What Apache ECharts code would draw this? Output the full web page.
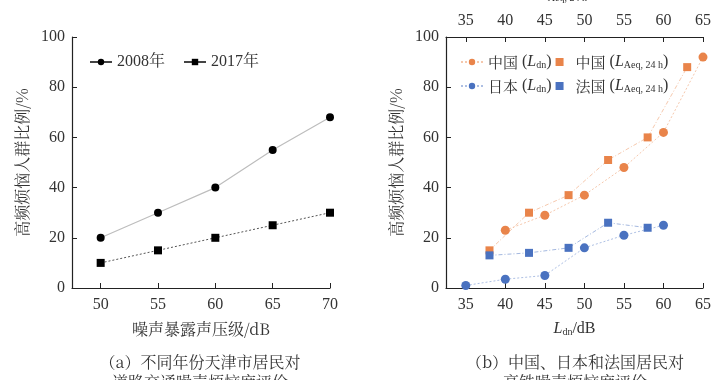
<!DOCTYPE html>
<html>
<head>
<meta charset="utf-8">
<script src="https://cdn.jsdelivr.net/npm/echarts@6/dist/echarts.min.js"></script>
<style>html,body{margin:0;padding:0;background:#fff;}#c{width:720px;height:380px;}</style>
</head>
<body>
<div id="c"></div>
<script>
// ---- data ----
const leftX = [50, 55, 60, 65, 70];
const y2008 = [20, 30, 40, 55, 68];
const y2017 = [10, 15, 20, 25, 30];
const leftTicks = [50, 55, 60, 65, 70];

const cnLdnX = [40, 45, 50, 55, 60, 65];
const cnLdnY = [23, 29, 37, 48, 62, 92];
const cnLaeqX = [38, 43, 48, 53, 58, 63];
const cnLaeqY = [15, 30, 37, 51, 60, 88];
const jpLdnX = [35, 40, 45, 50, 55, 60];
const jpLdnY = [1, 3.5, 5, 16, 21, 25];
const frLaeqX = [38, 43, 48, 53, 58];
const frLaeqY = [13, 14, 16, 26, 24];
const rightTicks = [35, 40, 45, 50, 55, 60, 65];

const FONT = "'Liberation Serif', 'Noto Serif CJK SC', 'Noto Sans CJK SC', serif";
const CJK = "'Noto Serif CJK SC', 'Noto Sans CJK SC', 'Liberation Serif', serif";
const ORANGE = '#E9844A';
const BLUE = '#4A72C0';
const AX = '#222';

function pairs(xs, ys) { return xs.map((x, i) => [x, ys[i]]); }

const axisLine = { lineStyle: { color: AX, width: 1.2 } };
const labelStyle = { fontFamily: FONT, fontSize: 16, color: '#333' };

const subRich = {
  i: { fontFamily: FONT, fontStyle: 'italic', fontSize: 16, color: '#333' },
  s: { fontFamily: FONT, fontSize: 10, color: '#333', verticalAlign: 'bottom', padding: [6, 0, 0, 0] },
  n: { fontFamily: CJK, fontSize: 15, color: '#333' },
  p: { fontFamily: FONT, fontSize: 16, color: '#333' },
  t: { fontFamily: FONT, fontSize: 16, color: '#333' }
};

const legendNames = {
  'cnLdn': '{n|中国}{p| (}{i|L}{s|dn}{p|) }',
  'cnLaeq': '{n|中国}{p| (}{i|L}{s|Aeq, 24 h}{p|) }',
  'jpLdn': '{n|日本}{p| (}{i|L}{s|dn}{p|) }',
  'frLaeq': '{n|法国}{p| (}{i|L}{s|Aeq, 24 h}{p|) }'
};
const SQ = 'path://M0,0L1,0L1,1L0,1Z';

const chart = echarts.init(document.getElementById('c'), null, { renderer: 'canvas' });
chart.setOption({
  backgroundColor: '#fff',
  animation: false,
  legend: [
    {
      left: 84, top: 49, itemWidth: 22, itemHeight: 8, itemGap: 18,
      textStyle: { fontFamily: FONT, fontSize: 16, color: '#333' },
      data: [
        { name: '2008年', lineStyle: { color: '#444', type: 'solid' } },
        { name: '2017年', lineStyle: { color: '#444', type: 'solid' } }
      ]
    },
    {
      left: 455, top: 49, itemWidth: 22, itemHeight: 8, itemGap: 0,
      formatter: n => legendNames[n],
      textStyle: { rich: subRich },
      data: ['cnLdn', { name: 'cnLaeq', icon: SQ }]
    },
    {
      left: 455, top: 73, itemWidth: 22, itemHeight: 8, itemGap: 0,
      formatter: n => legendNames[n],
      textStyle: { rich: subRich },
      data: ['jpLdn', { name: 'frLaeq', icon: SQ }]
    }
  ],
  grid: [
    { left: 72, right: 390, top: 37, bottom: 92, outerBoundsMode: 'none' },
    { left: 446, right: 17, top: 37, bottom: 92, outerBoundsMode: 'none' }
  ],
  xAxis: [
    {
      gridIndex: 0, type: 'value', min: 47.5, max: 70,
      axisLine: axisLine,
      axisTick: { inside: true, length: 5, lineStyle: { color: AX }, customValues: leftTicks },
      axisLabel: Object.assign({ margin: 9, customValues: leftTicks }, labelStyle),
      splitLine: { show: false },
      name: '噪声暴露声压级/dB', nameLocation: 'middle', nameGap: 33,
      nameTextStyle: { fontFamily: CJK, fontSize: 16, color: '#333' }
    },
    {
      gridIndex: 1, type: 'value', min: 32.5, max: 65,
      axisLine: axisLine,
      axisTick: { inside: true, length: 5, lineStyle: { color: AX }, customValues: rightTicks },
      axisLabel: Object.assign({ margin: 9, customValues: rightTicks }, labelStyle),
      splitLine: { show: false },
      name: '{i|L}{s|dn}{t|/dB}', nameLocation: 'middle', nameGap: 33,
      nameTextStyle: { rich: subRich }
    },
    {
      gridIndex: 1, type: 'value', min: 32.5, max: 65, position: 'top',
      axisLine: axisLine,
      axisTick: { inside: true, length: 5, lineStyle: { color: AX }, customValues: rightTicks },
      axisLabel: Object.assign({ margin: 8, customValues: rightTicks }, labelStyle),
      splitLine: { show: false },
      name: '{i|L}{s|Aeq, 24 h}{t|/dB}', nameLocation: 'middle', nameGap: 34,
      nameTextStyle: { rich: subRich }
    }
  ],
  yAxis: [
    {
      gridIndex: 0, type: 'value', min: 0, max: 100, interval: 20,
      axisLine: Object.assign({ show: true }, axisLine),
      axisTick: { show: true, inside: true, length: 5, lineStyle: { color: AX } },
      axisLabel: Object.assign({ margin: 7 }, labelStyle),
      splitLine: { show: false },
      name: '高频烦恼人群比例/%', nameLocation: 'middle', nameGap: 42,
      nameTextStyle: { fontFamily: CJK, fontSize: 16, color: '#333' }
    },
    {
      gridIndex: 1, type: 'value', min: 0, max: 100, interval: 20,
      axisLine: Object.assign({ show: true }, axisLine),
      axisTick: { show: true, inside: true, length: 5, lineStyle: { color: AX } },
      axisLabel: Object.assign({ margin: 7 }, labelStyle),
      splitLine: { show: false },
      name: '高频烦恼人群比例/%', nameLocation: 'middle', nameGap: 42,
      nameTextStyle: { fontFamily: CJK, fontSize: 16, color: '#333' }
    }
  ],
  series: [
    {
      name: '2008年', type: 'line', xAxisIndex: 0, yAxisIndex: 0,
      data: pairs(leftX, y2008), symbol: 'circle', symbolSize: 8,
      itemStyle: { color: '#000' }, lineStyle: { color: '#bdbdbd', width: 1.2 }
    },
    {
      name: '2017年', type: 'line', xAxisIndex: 0, yAxisIndex: 0,
      data: pairs(leftX, y2017), symbol: 'rect', symbolSize: 8,
      itemStyle: { color: '#000' }, lineStyle: { color: '#555', width: 1, type: [2, 2] }
    },
    {
      name: 'cnLdn', type: 'line', xAxisIndex: 1, yAxisIndex: 1,
      data: pairs(cnLdnX, cnLdnY), symbol: 'circle', symbolSize: 9,
      itemStyle: { color: ORANGE }, lineStyle: { color: 'rgba(233,132,74,0.45)', width: 1, type: [2, 2] }
    },
    {
      name: 'cnLaeq', type: 'line', xAxisIndex: 2, yAxisIndex: 1,
      data: pairs(cnLaeqX, cnLaeqY), symbol: 'rect', symbolSize: 8,
      itemStyle: { color: ORANGE }, lineStyle: { color: 'rgba(233,132,74,0.45)', width: 1, type: [4, 2, 1, 2] }
    },
    {
      name: 'jpLdn', type: 'line', xAxisIndex: 1, yAxisIndex: 1,
      data: pairs(jpLdnX, jpLdnY), symbol: 'circle', symbolSize: 9,
      itemStyle: { color: BLUE }, lineStyle: { color: 'rgba(74,114,192,0.45)', width: 1, type: [2, 2] }
    },
    {
      name: 'frLaeq', type: 'line', xAxisIndex: 2, yAxisIndex: 1,
      data: pairs(frLaeqX, frLaeqY), symbol: 'rect', symbolSize: 8,
      itemStyle: { color: BLUE }, lineStyle: { color: 'rgba(74,114,192,0.5)', width: 1, type: [4, 2, 1, 2] }
    }
  ],
  graphic: [
    {
      type: 'text', x: 200, y: 362, silent: true,
      style: { text: '（a）不同年份天津市居民对', fontFamily: CJK, fontSize: 16, fill: '#333', align: 'center', verticalAlign: 'middle' }
    },
    {
      type: 'text', x: 200, y: 382, silent: true,
      style: { text: '道路交通噪声烦恼度评价', fontFamily: CJK, fontSize: 16, fill: '#333', align: 'center', verticalAlign: 'middle' }
    },
    {
      type: 'text', x: 575, y: 362, silent: true,
      style: { text: '（b）中国、日本和法国居民对', fontFamily: CJK, fontSize: 16, fill: '#333', align: 'center', verticalAlign: 'middle' }
    },
    {
      type: 'text', x: 575, y: 382, silent: true,
      style: { text: '高铁噪声烦恼度评价', fontFamily: CJK, fontSize: 16, fill: '#333', align: 'center', verticalAlign: 'middle' }
    }
  ]
});
</script>
</body>
</html>
